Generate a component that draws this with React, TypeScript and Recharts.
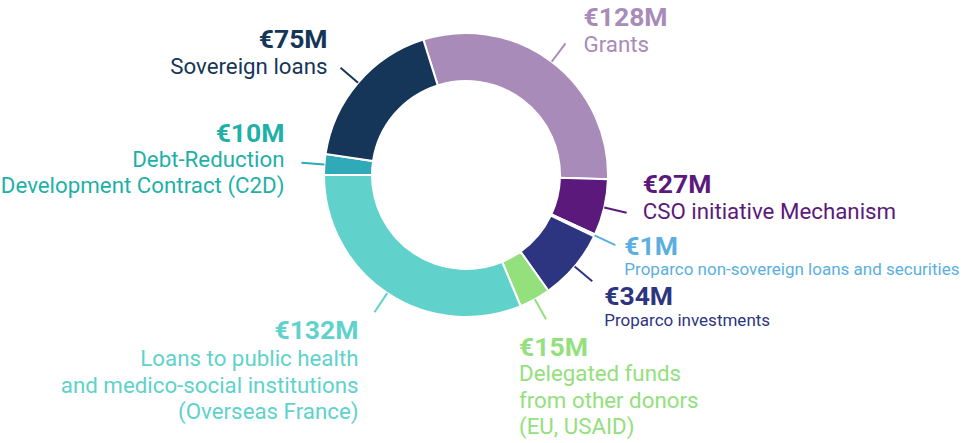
import React from "react";
import { PieChart, Pie, Cell } from "recharts";

const categories = [
  "Grants",
  "CSO initiative Mechanism",
  "Proparco non-sovereign loans and securities",
  "Proparco investments",
  "Delegated funds from other donors (EU, USAID)",
  "Loans to public health and medico-social institutions (Overseas France)",
  "Debt-Reduction Development Contract (C2D)",
  "Sovereign loans",
];
const amounts = [128, 27, 1, 34, 15, 132, 10, 75];
const valueLabels = ["€128M", "€27M", "€1M", "€34M", "€15M", "€132M", "€10M", "€75M"];
const descriptionLines = [
  ["Grants"],
  ["CSO initiative Mechanism"],
  ["Proparco non-sovereign loans and securities"],
  ["Proparco investments"],
  ["Delegated funds", "from other donors", "(EU, USAID)"],
  ["Loans to public health", "and medico-social institutions", "(Overseas France)"],
  ["Debt-Reduction", "Development Contract (C2D)"],
  ["Sovereign loans"],
];
const sliceColors = ["#a98bb9", "#5b1a7b", "#5aafdf", "#2d3580", "#93e07d", "#60d2cb", "#30a9b9", "#153658"];
const textColors = ["#a98bb9", "#5b1a7b", "#5aafdf", "#2d3580", "#93e07d", "#60d2cb", "#1fb0a8", "#153658"];

// layout: offsets of text relative to leader-line end
const layout = [
  { dx: 18, dy: -17, anchor: "start", size: 22.3, first: 26, gap: 26 },
  { dx: 16, dy: -20, anchor: "start", size: 22.3, first: 26, gap: 26 },
  { dx: 9, dy: 10, anchor: "start", size: 17, first: 20, gap: 20 },
  { dx: 12, dy: 24, anchor: "start", size: 17, first: 21, gap: 20 },
  { dx: -27, dy: 37, anchor: "start", size: 22.3, first: 25, gap: 26.5 },
  { dx: -16, dy: 27, anchor: "end", size: 22.3, first: 27, gap: 26.5 },
  { dx: -17, dy: -21, anchor: "end", size: 22.3, first: 25, gap: 26 },
  { dx: -13, dy: -20, anchor: "end", size: 22.3, first: 26, gap: 26 },
];

const data = categories.map((name, i) => ({ name, value: amounts[i] }));
const RAD = Math.PI / 180;

const renderLabel = (props: any) => {
  const { cx, cy, midAngle, outerRadius, index } = props;
  const r1 = outerRadius;
  const r2 = outerRadius + 23;
  const sx = cx + r1 * Math.cos(-midAngle * RAD);
  const sy = cy + r1 * Math.sin(-midAngle * RAD);
  const ex = cx + r2 * Math.cos(-midAngle * RAD);
  const ey = cy + r2 * Math.sin(-midAngle * RAD);
  const l = layout[index];
  const color = textColors[index];
  const tx = ex + l.dx;
  const ty = ey + l.dy;
  return (
    <g key={`lbl-${index}`}>
      <line x1={sx} y1={sy} x2={ex} y2={ey} stroke={sliceColors[index]} strokeWidth={2} />
      <text x={tx} y={ty} textAnchor={l.anchor} fill={color} fontFamily="Roboto" fontWeight={700} fontSize={26.5}>
        {valueLabels[index]}
      </text>
      <text textAnchor={l.anchor} fill={color} fontFamily="Roboto" fontWeight={400} fontSize={l.size}>
        {descriptionLines[index].map((line, j) => (
          <tspan key={j} x={tx} y={ty + l.first + j * l.gap}>
            {line}
          </tspan>
        ))}
      </text>
    </g>
  );
};

export default function App() {
  return (
    <div style={{ position: "absolute", left: 0, top: 0, width: 969, height: 443, background: "#fff" }}>
      <PieChart width={969} height={443} margin={{ top: 0, right: 0, bottom: 0, left: 0 }}>
        <Pie
          data={data}
          dataKey="value"
          nameKey="name"
          cx={466}
          cy={175}
          innerRadius={94}
          outerRadius={142}
          startAngle={107.5}
          endAngle={-252.5}
          stroke="#ffffff"
          strokeWidth={2}
          label={renderLabel}
          labelLine={false}
          isAnimationActive={false}
        >
          {data.map((d, i) => (
            <Cell key={d.name} fill={sliceColors[i]} />
          ))}
        </Pie>
      </PieChart>
    </div>
  );
}
